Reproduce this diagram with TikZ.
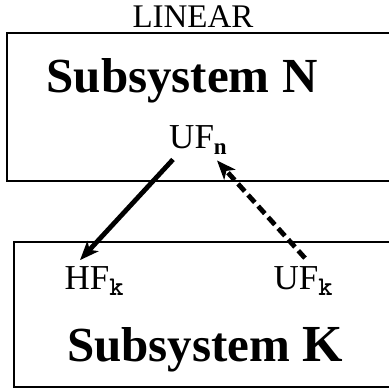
\documentclass[tikz,border=0pt]{standalone}
\usepackage{fontspec}
\setmainfont{Liberation Serif}
\usetikzlibrary{arrows.meta}

\newcommand{\subn}{\raisebox{-0.35ex}{\fontsize{23}{23}\selectfont\bfseries n}}
\newcommand{\subk}{\raisebox{-0.4ex}{\fontsize{27}{27}\selectfont\ttfamily\bfseries k}}

\tikzset{
    subbox/.style={line width=2pt},
    flux/.style={inner sep=0pt, font=\fontsize{35}{36}\selectfont},
    title/.style={font=\fontsize{49}{52}\selectfont\bfseries},
    flow/.style={-{Stealth[length=19pt,width=15pt,inset=5pt]}, line width=4.8pt}
}

\begin{document}
\begin{tikzpicture}[x=1pt,y=1pt]
    \useasboundingbox (0,0) rectangle (389,389);
    \clip (0,0) rectangle (389,389);

    % Boxes
    \draw[subbox] (7,208) rectangle (400,356);
    \draw[subbox] (14,2) rectangle (400,147);

    % Titles
    \node[inner sep=0pt] (lin) at (193,372) {\fontsize{33}{35}\selectfont LINEAR};
    \node[title] (subn) at (182,308) {Subsystem N};
    \node[title] (subk) at (205,39) {Subsystem \fontsize{52}{56}\selectfont K};

    % Fluxes
    \node[flux] (ufn) at (198,249) {UF\subn};
    \node[flux] (hfk) at (94,108) {HF\subk};
    \node[flux] (ufk) at (303,108) {UF\subk};

    % Arrows
    \draw[flow] ([xshift=-25pt,yshift=-5pt]ufn.south) -- ([xshift=-14pt,yshift=6pt]hfk.north);
    \draw[flow, dash pattern=on 10pt off 5pt] ([xshift=2pt,yshift=8pt]ufk.north) -- ([xshift=19pt,yshift=-6pt]ufn.south);
\end{tikzpicture}
\end{document}
